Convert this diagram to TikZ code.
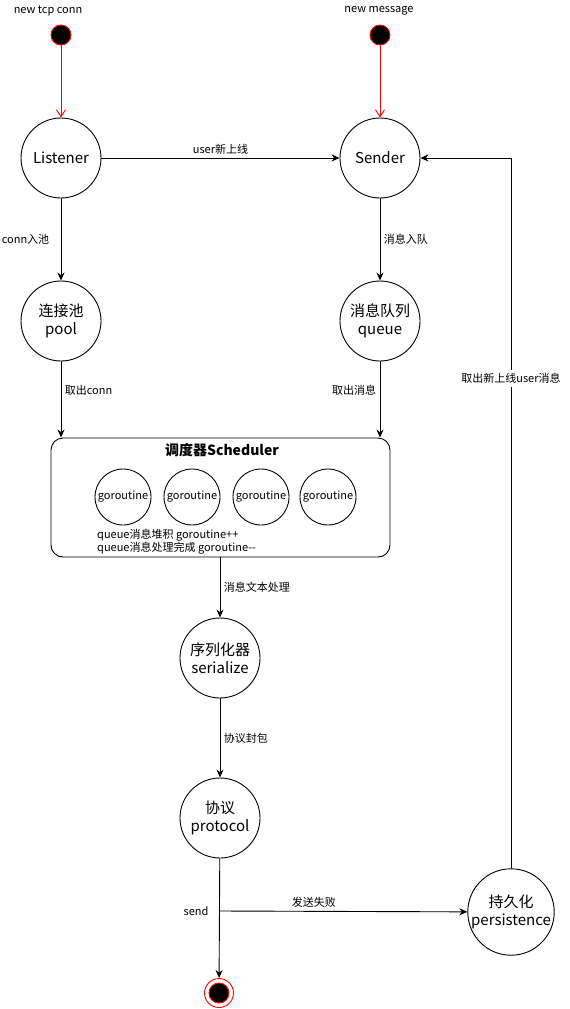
\documentclass[tikz,border=0pt]{standalone}
\usepackage{fontspec}
\setmainfont{Noto Sans CJK SC}
\usetikzlibrary{arrows.meta, positioning}

\begin{document}
\begin{tikzpicture}[x=1pt, y=-1pt]
\tikzstyle{statecirc}=[circle, draw=black, line width=0.9pt, minimum size=80pt, inner sep=0pt,
        align=center, font=\fontsize{15}{18}\selectfont]
\tikzstyle{worker}=[circle, draw=black, line width=0.9pt, minimum size=56pt, inner sep=0pt,
        font=\fontsize{11}{13}\selectfont]
\tikzstyle{initdot}=[circle, draw=red, fill=black, line width=0.9pt, minimum size=20pt, inner sep=0pt]
\tikzstyle{flow}=[-{Stealth[length=8pt, width=7pt]}, line width=0.9pt]
\tikzstyle{initflow}=[-{Straight Barb[length=7pt, width=9pt]}, red, line width=0.9pt]
\tikzstyle{lbl}=[font=\fontsize{11}{13}\selectfont]

\useasboundingbox (0,0) rectangle (570,1009);

    \node (tcp) [lbl] at (48,11) {new tcp conn};
    \node (msg) [lbl] at (379,11) {new message};
    \node (conndot) [initdot] at (61,35) {};
    \node (msgdot) [initdot] at (380,35) {};

    \node (listener) [statecirc] at (61,158) {Listener};
    \node (sender) [statecirc] at (380,158) {Sender};
    \node (pool) [statecirc] at (61,321) {连接池\\pool};
    \node (queue) [statecirc] at (380,321) {消息队列\\queue};

    \node (sched) [rectangle, draw=black, line width=0.9pt, rounded corners=12pt,
        minimum width=339pt, minimum height=119pt] at (220.5,497.5) {};
    \node (schedtitle) [font=\bfseries\fontsize{14}{16}\selectfont] at (222,450) {调度器Scheduler};
    \foreach \i/\x in {1/123, 2/192, 3/261, 4/328}
        \node (gr\i) [worker] at (\x,497) {goroutine};
    \node (note) [lbl, anchor=west, align=left, inner sep=0pt] at (97,541.5)
        {queue消息堆积 goroutine++\\queue消息处理完成 goroutine-{}-};

    \node (serialize) [statecirc] at (220,658) {序列化器\\serialize};
    \node (protocol) [statecirc] at (220,818) {协议\\protocol};
    \node (persist) [statecirc] at (511,912) {持久化\\persistence};
    \node (finalring) [circle, draw=red, line width=0.9pt, minimum size=29pt] at (219,993) {};
    \node (final) [initdot] at (219,993) {};
    \coordinate (split) at (220,911);

\path[initflow] (conndot) edge (listener);
\path[initflow] (msgdot) edge (sender);

\path[flow] (listener) edge node[lbl, above] {user新上线} (sender);
\path[flow] (listener) edge node[lbl, left=8pt] {conn入池} (pool);
\path[flow] (sender) edge node[lbl, right] {消息入队} (queue);

\path[flow] (pool) edge node[lbl, right, pos=0.38] {取出conn} (pool |- sched.north);
\path[flow] (queue) edge node[lbl, left, pos=0.38] {取出消息} (queue |- sched.north);

\path[flow] (sched.south -| serialize) edge node[lbl, right] {消息文本处理} (serialize);
\path[flow] (serialize) edge node[lbl, right] {协议封包} (protocol);
\path[flow] (protocol) edge (finalring);

\node (sendlbl) [lbl, left=8pt] at (split) {send};
\path[flow] (split) edge node[lbl, above, pos=0.38] {发送失败} (persist);
\draw[flow] (persist) |- node[lbl, fill=white, pos=0.345] {取出新上线user消息} (sender);

\end{tikzpicture}
\end{document}
